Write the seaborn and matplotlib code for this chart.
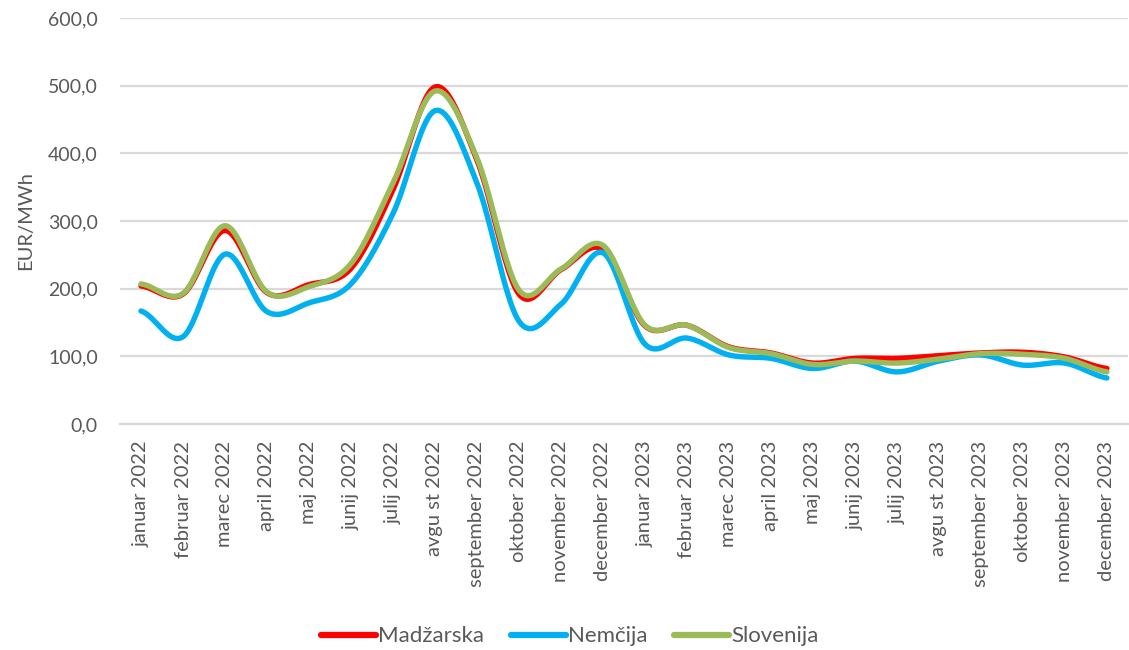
import numpy as np
import pandas as pd
import matplotlib
matplotlib.use("Agg")
import matplotlib.pyplot as plt
from matplotlib.lines import Line2D
from matplotlib.ticker import FuncFormatter, MultipleLocator, FixedLocator
import seaborn as sns

months = ["januar 2022", "februar 2022", "marec 2022", "april 2022", "maj 2022",
          "junij 2022", "julij 2022", "avgu st 2022", "september 2022", "oktober 2022",
          "november 2022", "december 2022", "januar 2023", "februar 2023", "marec 2023",
          "april 2023", "maj 2023", "junij 2023", "julij 2023", "avgu st 2023",
          "september 2023", "oktober 2023", "november 2023", "december 2023"]

madzarska = [204, 192, 286, 194, 206, 230, 346, 498, 390, 192, 228, 258,
             145, 146, 114, 105, 90, 97, 97, 101, 105, 106, 99, 82]
nemcija = [167, 129, 251, 166, 179, 207, 311, 463, 356, 152, 177, 253,
           118, 127, 102, 97, 82, 93, 77, 93, 102, 87, 90, 68]
slovenija = [207, 193, 293, 195, 203, 237, 356, 492, 393, 198, 229, 264,
             146, 146, 113, 104, 88, 93, 90, 96, 104, 103, 97, 77]

series_names = ["Madžarska", "Nemčija", "Slovenija"]
series_values = [madzarska, nemcija, slovenija]
series_colors = ["#FF0000", "#00B0F0", "#9BBB59"]

TEXT = "#595959"
GRID = "#D9D9D9"


def smooth_curve(values, steps=24):
    """Cardinal (Catmull-Rom) spline through the monthly points."""
    v = np.asarray(values, dtype=float)
    n = len(v)
    tang = np.empty(n)
    tang[1:-1] = (v[2:] - v[:-2]) / 2.0
    tang[0] = (v[1] - v[0]) / 2.0
    tang[-1] = (v[-1] - v[-2]) / 2.0
    xs, ys = [], []
    t = np.linspace(0, 1, steps, endpoint=False)
    h00 = 2 * t**3 - 3 * t**2 + 1
    h10 = t**3 - 2 * t**2 + t
    h01 = -2 * t**3 + 3 * t**2
    h11 = t**3 - t**2
    for i in range(n - 1):
        xs.append(i + t)
        ys.append(h00 * v[i] + h10 * tang[i] + h01 * v[i + 1] + h11 * tang[i + 1])
    xs.append(np.array([n - 1.0]))
    ys.append(np.array([v[-1]]))
    return np.concatenate(xs), np.concatenate(ys)


frames = []
for name, vals in zip(series_names, series_values):
    x, y = smooth_curve(vals)
    frames.append(pd.DataFrame({"x": x, "y": y, "serija": name}))
data = pd.concat(frames, ignore_index=True)

sns.set_theme(style="white")
plt.rcParams["font.family"] = ["Lato", "DejaVu Sans"]

fig = plt.figure(figsize=(11.29, 6.5), dpi=100)
ax = fig.add_axes([0.1063, 0.3477, 0.8927, 0.6246])

sns.lineplot(data=data, x="x", y="y", hue="serija", hue_order=series_names,
             palette=series_colors, linewidth=3.9, sort=False, estimator=None,
             legend=False, ax=ax, solid_capstyle="round")

ax.set_xlim(-0.5, len(months) - 0.5)
ax.set_ylim(0, 600)
ax.yaxis.set_major_locator(MultipleLocator(100))
ax.yaxis.set_major_formatter(FuncFormatter(lambda v, _: f"{v:.1f}".replace(".", ",")))
ax.grid(axis="y", color=GRID, linewidth=1.6)
ax.set_axisbelow(True)

ax.xaxis.set_major_locator(FixedLocator(range(len(months))))
ax.set_xticklabels(months, rotation=90, fontsize=14.5, color=TEXT)
ax.xaxis.set_minor_locator(FixedLocator(np.arange(-0.5, len(months), 1.0)))
ax.tick_params(axis="x", which="major", length=0, pad=12)
ax.tick_params(axis="x", which="minor", length=5, width=1.5, color=GRID, direction="out")
ax.tick_params(axis="y", length=0, pad=16, labelsize=14, labelcolor=TEXT)

for side in ["left", "right", "top"]:
    ax.spines[side].set_visible(False)
ax.spines["bottom"].set_color(GRID)
ax.spines["bottom"].set_linewidth(1.6)

ax.set_xlabel("")
ax.set_ylabel("EUR/MWh", fontsize=14.5, color=TEXT, labelpad=10)

handles = [Line2D([0], [0], color=c, linewidth=4.5, solid_capstyle="round")
           for c in series_colors]
fig.legend(handles, series_names, loc="center", bbox_to_anchor=(0.505, 0.021),
           ncol=3, frameon=False, fontsize=16, handlelength=2.45, handletextpad=0.12,
           columnspacing=1.2, labelcolor=TEXT)

fig.savefig("out.png", dpi=100)
